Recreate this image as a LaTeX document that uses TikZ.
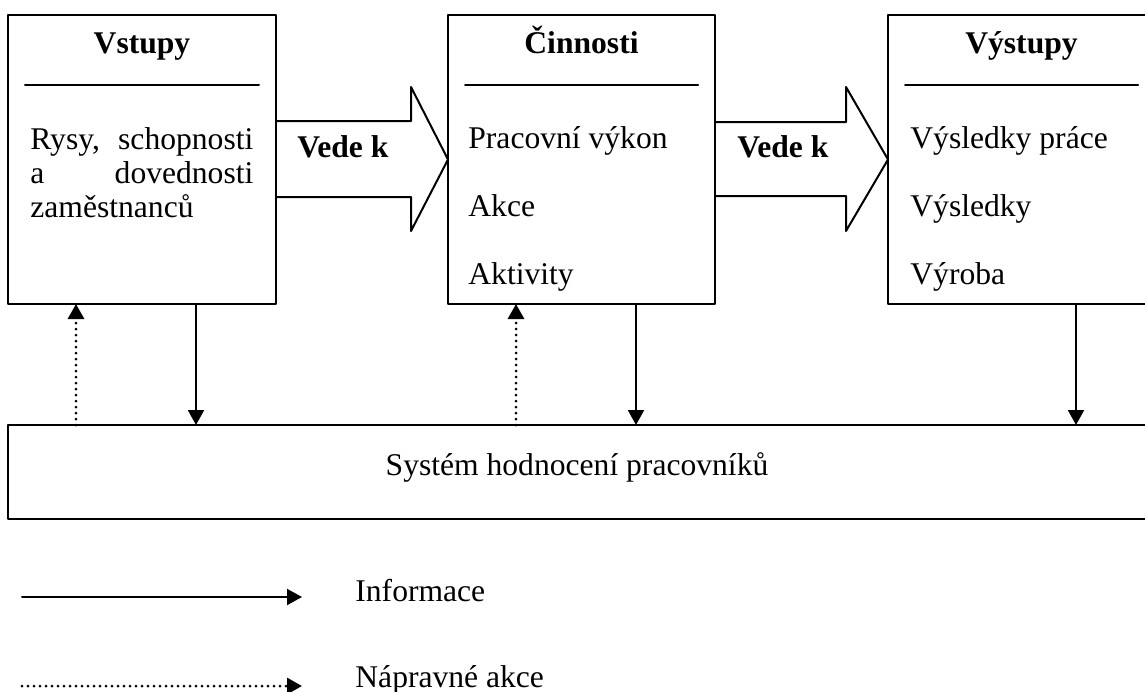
\documentclass[tikz,border=0pt]{standalone}
\usepackage{fontspec}
\setmainfont{Liberation Serif}
\usetikzlibrary{arrows.meta,calc}
\newcommand{\velky}{\fontsize{15.8}{17}\selectfont}

\begin{document}
\begin{tikzpicture}[line cap=round,line join=round,x=0.5pt,y=-0.5pt,
  every node/.style={font=\velky,inner sep=0pt},
  box/.style={draw,line width=1pt,rectangle,anchor=north west,outer sep=0pt,minimum height=144.5pt},
  hlava/.style={anchor=base,font=\velky\bfseries},
  polozka/.style={anchor=base west},
  info/.style={line width=1pt,-{Triangle[length=7.5pt,width=8pt]}},
  naprava/.style={info,line width=1.5pt,dash pattern=on 0pt off 3pt},
  vede/.style={line width=1pt}]
		\path[use as bounding box,clip] (0,0) rectangle (1145,691);
		% tri bloky
		\node[box,minimum width=134pt] (vstupy) at (8,15) {};
		\node[box,minimum width=133.5pt] (cinnosti) at (448,15) {};
		\node[box,minimum width=133.5pt] (vystupy) at (888,15) {};
		\node[box,minimum width=570pt,minimum height=47pt] (hodnoceni) at (8,425) {};
		\draw[line width=1pt] ($(vstupy.north west)+(17,70)$) -- ($(vstupy.north east)+(-17,70)$);
		\draw[line width=1pt] ($(cinnosti.north west)+(17,70)$) -- ($(cinnosti.north east)+(-17,70)$);
		\draw[line width=1pt] ($(vystupy.north west)+(17,70)$) -- ($(vystupy.north east)+(-17,70)$);
		\node[hlava] at ($(vstupy.north)+(0,38)$) {Vstupy};
		\node[hlava] at ($(cinnosti.north)+(0,38)$) {Činnosti};
		\node[hlava] at ($(vystupy.north)+(0,38)$) {Výstupy};
		\node[polozka,text width=111.5pt,align=left] at ($(vstupy.north west)+(22,134)$) {Rysy,\hfill schopnosti\\ a\hfill dovednosti\\ zaměstnanců};
		\node[polozka] at ($(cinnosti.north west)+(20,133)$) {Pracovní výkon};
		\node[polozka] at ($(cinnosti.north west)+(20,201)$) {Akce};
		\node[polozka] at ($(cinnosti.north west)+(20,269)$) {Aktivity};
		\node[polozka] at ($(vystupy.north west)+(22,133)$) {Výsledky práce};
		\node[polozka] at ($(vystupy.north west)+(22,201)$) {Výsledky};
		\node[polozka] at ($(vystupy.north west)+(22,269)$) {Výroba};
		\node[anchor=base] at (577,475) {Systém hodnocení pracovníků};
		% sipky vede k
		\draw[vede] (276,121) -- (411,121) -- (411,87) -- (cinnosti.west) -- (411,231) -- (411,197) -- (276,197);
		\draw[vede] (715,122) -- (846,122) -- (846,87) -- (vystupy.west) -- (846,231) -- (846,196) -- (715,196);
		\node[polozka,font=\velky\bfseries] at (297,157) {Vede k};
		\node[polozka,font=\velky\bfseries] at (737,157) {Vede k};
		% informace a napravne akce
		\coordinate (a1) at ($(vstupy.south west)+(188,0)$);
		\coordinate (a2) at ($(cinnosti.south west)+(188,0)$);
		\coordinate (a3) at ($(vystupy.south west)+(188,0)$);
		\coordinate (n1) at ($(vstupy.south west)+(68,0)$);
		\coordinate (n2) at ($(cinnosti.south west)+(68,0)$);
		\draw[info] (a1) -- (a1 |- hodnoceni.north);
		\draw[info] (a2) -- (a2 |- hodnoceni.north);
		\draw[info] (a3) -- (a3 |- hodnoceni.north);
		\draw[naprava] (n1 |- hodnoceni.north) -- (n1);
		\draw[naprava] (n2 |- hodnoceni.north) -- (n2);
		% legenda
		\coordinate (i1) at (22,597);
		\coordinate (i2) at (302,597);
		\coordinate (p1) at (22,686);
		\coordinate (p2) at (302,686);
		\draw[info] (i1) -- (i2);
		\draw[naprava] (p1) -- (p2);
		\node[polozka] at (355,601) {Informace};
		\node[polozka] at (355,687) {Nápravné akce};
\end{tikzpicture}
\end{document}
